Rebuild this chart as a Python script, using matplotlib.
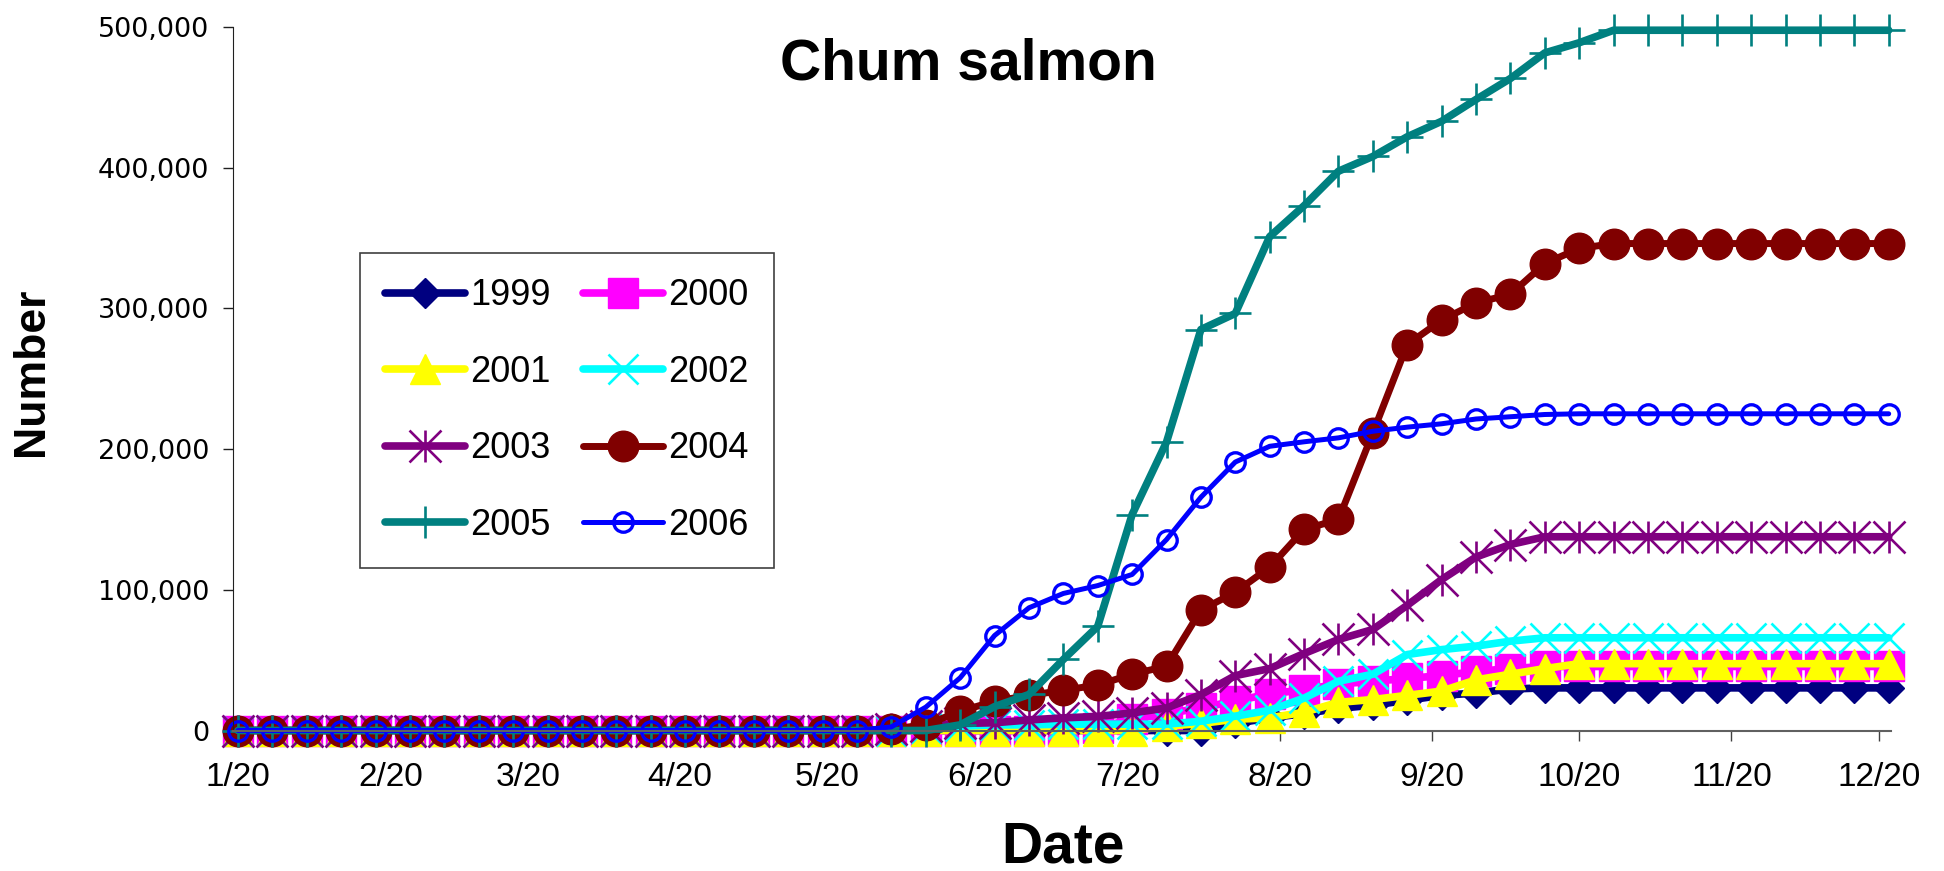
import pandas as pd
import matplotlib
matplotlib.use('Agg')
import matplotlib.pyplot as plt
import matplotlib.dates as mdates
from matplotlib.path import Path
from matplotlib.ticker import FuncFormatter, MultipleLocator

plt.rcParams['font.family'] = ['Liberation Sans', 'DejaVu Sans']

# weekly counts, starting 1/20
dates = pd.date_range('2006-01-20', periods=49, freq='7D')

n1999 = [0, 0, 0, 0, 0, 0, 0, 0, 0, 0,
         0, 0, 0, 0, 0, 0, 0, 0, 0, 0,
         0, 0, 0, 0, 0, 0, 0, 0, 0, 5000,
         9000, 12000, 15700, 18000, 21500, 25000, 26600, 29500, 30300, 30300,
         30300, 30300, 30300, 30300, 30300, 30300, 30300, 30300, 30300]
n2000 = [0, 0, 0, 0, 0, 0, 0, 0, 0, 0,
         0, 0, 0, 0, 0, 0, 0, 0, 0, 0,
         0, 0, 0, 0, 0, 2000, 8000, 12000, 16000, 21000,
         26000, 29000, 33000, 35000, 37000, 39000, 42000, 44000, 45500, 45500,
         45500, 45500, 45500, 45500, 45500, 45500, 45500, 45500, 45500]
n2001 = [0, 0, 0, 0, 0, 0, 0, 0, 0, 0,
         0, 0, 0, 0, 0, 0, 0, 0, 0, 0,
         0, 0, 0, 0, 0, 0, 0, 3000, 5000, 8000,
         9000, 13000, 20000, 22000, 25000, 28000, 36000, 40000, 44000, 47500,
         47500, 47500, 47500, 47500, 47500, 47500, 47500, 47500, 47500]
n2002 = [0, 0, 0, 0, 0, 0, 0, 0, 0, 0,
         0, 0, 0, 0, 0, 0, 0, 0, 0, 0,
         2000, 3000, 4000, 4000, 4500, 4500, 4500, 4500, 6600, 10200,
         14400, 23000, 35000, 40000, 54000, 57500, 60000, 63500, 65900, 65900,
         65900, 65900, 65900, 65900, 65900, 65900, 65900, 65900, 65900]
n2003 = [0, 0, 0, 0, 0, 0, 0, 0, 0, 0,
         0, 0, 0, 0, 0, 0, 0, 0, 0, 1000,
         3000, 5000, 5500, 7500, 9000, 10000, 12500, 16000, 25500, 39000,
         44000, 54700, 64700, 71800, 89000, 107300, 123300, 132200, 137700, 137700,
         137700, 137700, 137700, 137700, 137700, 137700, 137700, 137700, 137700]
n2004 = [0, 0, 0, 0, 0, 0, 0, 0, 0, 0,
         0, 0, 0, 0, 0, 0, 0, 0, 0, 1000,
         4000, 13700, 20800, 24900, 28600, 32300, 40000, 45700, 85500, 98300,
         116000, 142900, 150000, 211500, 274300, 291600, 304000, 309900, 331900, 342600,
         346100, 346100, 346100, 346100, 346100, 346100, 346100, 346100, 346100]
n2005 = [0, 0, 0, 0, 0, 0, 0, 0, 0, 0,
         0, 0, 0, 0, 0, 0, 0, 0, 0, 0,
         0, 4000, 17000, 25600, 50500, 74000, 153500, 205000, 285000, 296400,
         351000, 373000, 397500, 408000, 422000, 433000, 448500, 463400, 481600, 488800,
         497700, 497700, 497700, 497700, 497700, 497700, 497700, 497700, 497700]
n2006 = [0, 0, 0, 0, 0, 0, 0, 0, 0, 0,
         0, 0, 0, 0, 0, 0, 0, 0, 0, 2600,
         16600, 37500, 67500, 87200, 97400, 103000, 110900, 135700, 165800, 190800,
         202000, 205200, 208000, 212700, 215600, 218000, 221400, 223000, 224600, 225100,
         225100, 225100, 225100, 225100, 225100, 225100, 225100, 225100, 225100]

# Excel-style star: an X with a vertical bar through it
star = Path([(-1, -1), (1, 1), (-1, 1), (1, -1), (0, -1), (0, 1)],
            [Path.MOVETO, Path.LINETO] * 3)

series = [
    (n1999, '1999', '#000080', dict(marker='D', ms=15, lw=5.5)),
    (n2000, '2000', '#FF00FF', dict(marker='s', ms=21, lw=5.5)),
    (n2001, '2001', '#FFFF00', dict(marker='^', ms=22, lw=5.5)),
    (n2002, '2002', '#00FFFF', dict(marker='x', ms=22, mew=1.9, lw=5.5)),
    (n2003, '2003', '#800080', dict(marker=star, ms=23, mew=1.9, lw=5.5)),
    (n2004, '2004', '#800000', dict(marker='o', ms=22, lw=5.0)),
    (n2005, '2005', '#008080', dict(marker='+', ms=23, mew=1.9, lw=5.5)),
    (n2006, '2006', '#0000FF', dict(marker='o', ms=14, mew=2.4, mfc='none', lw=3.6)),
]

fig = plt.figure(figsize=(19.44, 8.71), dpi=100)
ax = fig.add_axes([0.1199, 0.1613, 0.8527, 0.8077])

handles = []
for vals, label, color, kw in series:
    h, = ax.plot(dates, vals, color=color, mec=color, label=label, clip_on=False,
                 solid_capstyle='round', solid_joinstyle='round', **kw)
    handles.append(h)

ax.set_ylim(0, 500000)
ax.set_xlim(pd.Timestamp('2006-01-19'), pd.Timestamp('2006-12-22 10:00'))

ax.yaxis.set_major_locator(MultipleLocator(100000))
ax.yaxis.set_major_formatter(FuncFormatter(lambda v, p: f'{int(v):,}'))
ax.xaxis.set_major_locator(mdates.DayLocator(bymonthday=20))
ax.xaxis.set_major_formatter(FuncFormatter(
    lambda v, p: f'{mdates.num2date(v).month}/{mdates.num2date(v).day}'))

for side in ('top', 'right'):
    ax.spines[side].set_visible(False)
ax.spines['left'].set_color('#202020')
ax.spines['bottom'].set_color('#606060')
ax.spines['bottom'].set_linewidth(1.5)

ax.tick_params(axis='x', direction='out', length=7, width=1, pad=16,
               labelsize=24, colors='#404040', labelcolor='black')
ax.tick_params(axis='y', direction='out', length=7, width=1, pad=10,
               labelsize=19.5, colors='#202020', labelcolor='black')
for t in ax.get_yticklabels():
    t.set_fontfamily('DejaVu Sans')

fig.text(968 / 1944, 1 - 64 / 871, 'Chum salmon', ha='center', va='center',
         fontsize=41, fontweight='bold')
fig.text(1063 / 1944, 1 - 847 / 871, 'Date', ha='center', va='center',
         fontsize=41, fontweight='bold')
fig.text(31 / 1944, 1 - 372 / 871, 'Number', ha='center', va='center',
         rotation=90, fontsize=32, fontweight='bold')

# legend filled row by row: 1999 2000 / 2001 2002 / ...
order = [0, 2, 4, 6, 1, 3, 5, 7]
leg = ax.legend([handles[i] for i in order], [series[i][1] for i in order],
                ncol=2, loc='upper left', bbox_to_anchor=(360 / 1944, 1 - 253 / 871),
                bbox_transform=fig.transFigure, fontsize=26, frameon=True,
                fancybox=False, edgecolor='#404040', framealpha=1,
                handlelength=2.2, handletextpad=0.15, columnspacing=0.9,
                labelspacing=1.15, borderpad=0.7, borderaxespad=0)
leg.get_frame().set_linewidth(1.2)
leg.set_zorder(10)

fig.savefig('out.png', dpi=100)
